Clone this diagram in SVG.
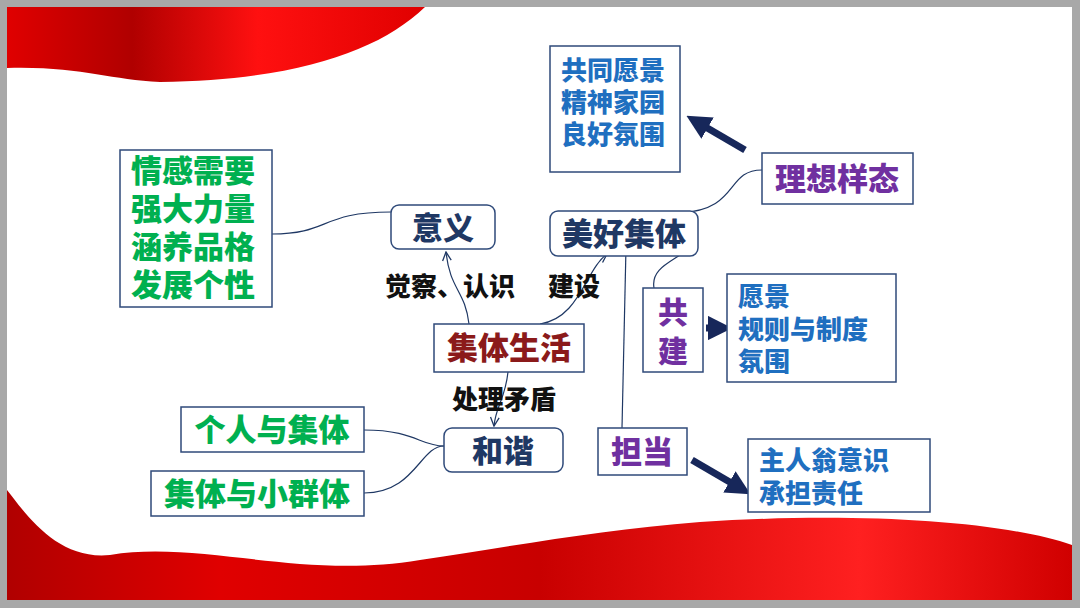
<svg xmlns="http://www.w3.org/2000/svg" width="1080" height="608" viewBox="0 0 1080 608">
<defs>
<style>
.box{fill:#fff;stroke:#2f4a7a;stroke-width:1.5}
.t{font-family:"Noto Sans CJK SC",sans-serif;font-weight:900}
.c{fill:none;stroke:#1f3864;stroke-width:1.2}
.big{fill:none;stroke:#17275a;stroke-width:7}
</style>
<marker id="a" viewBox="0 0 10 10" refX="9" refY="5" markerWidth="9" markerHeight="9" orient="auto"><path d="M1,1 L9,5 L1,9" fill="none" stroke="#1f3864" stroke-width="1.2"/></marker>
<marker id="b" viewBox="0 0 10 10" refX="5" refY="5" markerWidth="3.5" markerHeight="3.5" orient="auto"><path d="M0,0 L10,5 L0,10 z" fill="#17275a"/></marker>
<linearGradient id="r1" x1="0" y1="0" x2="1" y2="0"><stop offset="0" stop-color="#e00000"/><stop offset="0.3" stop-color="#b00000"/><stop offset="0.6" stop-color="#ff1010"/><stop offset="1" stop-color="#e00000"/></linearGradient>
<linearGradient id="r2" x1="0" y1="0" x2="1" y2="0"><stop offset="0" stop-color="#b00000"/><stop offset="0.2" stop-color="#e00000"/><stop offset="0.5" stop-color="#c80000"/><stop offset="0.8" stop-color="#ff2020"/><stop offset="1" stop-color="#d00000"/></linearGradient>
</defs>
<rect width="1080" height="608" fill="#a8a8a8"/>
<rect x="7" y="7" width="1065" height="593" fill="#fff"/>
<path d="M7,7 L425,7 C380,50 300,80 160,82 C110,80 80,66 7,68 Z" fill="url(#r1)"/>
<path d="M7,490 C30,520 60,560 110,555 C200,540 300,580 420,560 C520,545 600,530 700,522 C850,512 1000,520 1072,545 L1072,600 L7,600 Z" fill="url(#r2)"/>
<g id="connectors">
<path class="c" d="M272,234 C330,234 320,212 391,212"/>
<path class="c" d="M469,324 C465,290 450,290 446,252" marker-end="url(#a)"/>
<path class="c" d="M540,324 C580,318 585,270 607,254" marker-end="url(#a)"/>
<path class="c" d="M508,372 C505,400 496,405 494,426" marker-end="url(#a)"/>
<path class="c" d="M444,446 C420,446 415,430 364,430"/>
<path class="c" d="M444,446 C420,446 415,493 364,493"/>
<path class="c" d="M626,247 L622,428"/>
<path class="c" d="M680,213 C740,210 725,170 762,170"/>
<path class="c" d="M654,288 C650,265 680,260 692,245"/>
<path class="big" d="M745,150 L697,122" marker-end="url(#b)"/>
<path class="big" d="M706,328 L720,328" marker-end="url(#b)"/>
<path class="big" d="M692,460 L740,488" marker-end="url(#b)"/>
</g>
<g id="n-vision"><rect class="box" x="550" y="46" width="130" height="126"/>
<text class="t" fill="#1f6fc0" font-size="26"><tspan x="561" y="80">共同愿景</tspan><tspan x="561" y="112">精神家园</tspan><tspan x="561" y="144">良好氛围</tspan></text></g>
<g id="n-ideal"><rect class="box" x="762" y="153" width="151" height="51"/>
<text class="t" fill="#7030a0" font-size="31" x="837" y="190" text-anchor="middle">理想样态</text></g>
<g id="n-needs"><rect class="box" x="120" y="150" width="152" height="157"/>
<text class="t" fill="#00b050" font-size="31"><tspan x="131" y="182">情感需要</tspan><tspan x="131" y="220">强大力量</tspan><tspan x="131" y="258">涵养品格</tspan><tspan x="131" y="296">发展个性</tspan></text></g>
<g id="n-meaning"><rect class="box" x="391" y="205" width="104" height="44" rx="8"/>
<text class="t" fill="#1f3864" font-size="31" x="443" y="239" text-anchor="middle">意义</text></g>
<g id="n-good"><rect class="box" x="550" y="211" width="148" height="45" rx="8"/>
<text class="t" fill="#1f3864" font-size="31" x="624" y="245" text-anchor="middle">美好集体</text></g>
<text class="t" fill="#111" font-size="26" x="385" y="296">觉察、认识</text>
<text class="t" fill="#111" font-size="26" x="548" y="296">建设</text>
<g id="n-life"><rect class="box" x="434" y="324" width="150" height="48"/>
<text class="t" fill="#8b1a1a" font-size="31" x="509" y="359" text-anchor="middle">集体生活</text></g>
<text class="t" fill="#111" font-size="26" x="452" y="409">处理矛盾</text>
<g id="n-harmony"><rect class="box" x="444" y="428" width="119" height="44" rx="8"/>
<text class="t" fill="#1f3864" font-size="31" x="503" y="462" text-anchor="middle">和谐</text></g>
<g id="n-person"><rect class="box" x="181" y="407" width="183" height="45"/>
<text class="t" fill="#00b050" font-size="31" x="272" y="441" text-anchor="middle">个人与集体</text></g>
<g id="n-group"><rect class="box" x="151" y="471" width="213" height="45"/>
<text class="t" fill="#00b050" font-size="31" x="257" y="505" text-anchor="middle">集体与小群体</text></g>
<g id="n-build"><rect class="box" x="643" y="288" width="60" height="84"/>
<text class="t" fill="#7030a0" font-size="30" text-anchor="middle"><tspan x="673" y="323">共</tspan><tspan x="673" y="362">建</tspan></text></g>
<g id="n-rules"><rect class="box" x="727" y="274" width="169" height="108"/>
<text class="t" fill="#1f6fc0" font-size="26"><tspan x="738" y="306">愿景</tspan><tspan x="738" y="339">规则与制度</tspan><tspan x="738" y="371">氛围</tspan></text></g>
<g id="n-duty"><rect class="box" x="598" y="428" width="89" height="47"/>
<text class="t" fill="#7030a0" font-size="31" x="642" y="463" text-anchor="middle">担当</text></g>
<g id="n-owner"><rect class="box" x="748" y="439" width="182" height="73"/>
<text class="t" fill="#1f6fc0" font-size="26"><tspan x="759" y="470">主人翁意识</tspan><tspan x="759" y="503">承担责任</tspan></text></g>
</svg>
